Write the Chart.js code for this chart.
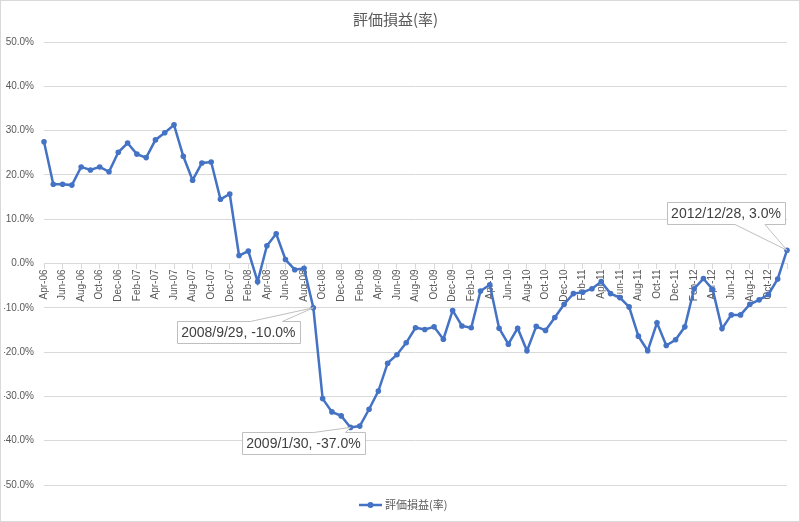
<!DOCTYPE html>
<html>
<head>
<meta charset="utf-8">
<script src="https://cdn.jsdelivr.net/npm/chart.js@4/dist/chart.umd.min.js"></script>
<style>
  body { margin: 0; background: #fff; }
  canvas { display: block; }
</style>
</head>
<body>
<canvas id="myChart" width="800" height="522"></canvas>
<script>
// monthly categories, Apr-06 .. Dec-12
var labels = [
  'Apr-06','May-06','Jun-06','Jul-06','Aug-06','Sep-06','Oct-06','Nov-06','Dec-06',
  'Jan-07','Feb-07','Mar-07','Apr-07','May-07','Jun-07','Jul-07','Aug-07','Sep-07','Oct-07','Nov-07','Dec-07',
  'Jan-08','Feb-08','Mar-08','Apr-08','May-08','Jun-08','Jul-08','Aug-08','Sep-08','Oct-08','Nov-08','Dec-08',
  'Jan-09','Feb-09','Mar-09','Apr-09','May-09','Jun-09','Jul-09','Aug-09','Sep-09','Oct-09','Nov-09','Dec-09',
  'Jan-10','Feb-10','Mar-10','Apr-10','May-10','Jun-10','Jul-10','Aug-10','Sep-10','Oct-10','Nov-10','Dec-10',
  'Jan-11','Feb-11','Mar-11','Apr-11','May-11','Jun-11','Jul-11','Aug-11','Sep-11','Oct-11','Nov-11','Dec-11',
  'Jan-12','Feb-12','Mar-12','Apr-12','May-12','Jun-12','Jul-12','Aug-12','Sep-12','Oct-12','Nov-12','Dec-12'
];

// 評価損益(率) in %
var values = [
  27.5, 17.9, 17.9, 17.7, 21.8, 21.1, 21.8, 20.7, 25.1,
  27.2, 24.7, 23.9, 27.9, 29.5, 31.3, 24.2, 18.8, 22.7, 22.9, 14.5, 15.7,
  1.8, 2.8, -4.1, 4.0, 6.7, 0.9, -1.4, -1.1, -10.0, -30.5, -33.5, -34.4,
  -37.0, -36.7, -32.9, -28.8, -22.5, -20.6, -17.9, -14.5, -14.9, -14.3, -17.1, -10.6,
  -14.1, -14.5, -6.2, -4.8, -14.6, -18.2, -14.6, -19.7, -14.2, -15.1, -12.2, -9.2,
  -6.8, -6.5, -5.7, -4.1, -6.8, -7.7, -9.8, -16.4, -19.7, -13.4, -18.5, -17.2,
  -14.3, -5.7, -3.4, -5.9, -14.7, -11.6, -11.6, -9.2, -8.2, -7.0, -3.5, 3.0
];

var seriesName = '評価損益(率)';
var yTicks = [-50, -40, -30, -20, -10, 0, 10, 20, 30, 40, 50];

// data callouts
var calloutIndex = [29, 33, 80];
var calloutText = ['2008/9/29, -10.0%', '2009/1/30, -37.0%', '2012/12/28, 3.0%'];

var blue = '#4472C4';
var grey = '#595959';
var gridGrey = '#d9d9d9';

// box offset from point (center), wedge base on top or bottom edge
var calloutLayout = [
  { dx: -75, dy: 24.5, edge: 'top', w1: 12, w2: 44 },
  { dx: -47, dy: 16, edge: 'top', w1: 10, w2: 42 },
  { dx: -61, dy: -37.5, edge: 'bottom', w1: 9, w2: 39 }
];

var extras = {
  id: 'extras',
  afterDraw: function(chart) {
    var ctx = chart.ctx;
    var xs = chart.scales.x, ys = chart.scales.y;
    ctx.save();

    // callouts
    ctx.font = '14px "Liberation Sans", Arial, sans-serif';
    for (var i = 0; i < calloutIndex.length; i++) {
      var idx = calloutIndex[i];
      var px = xs.getPixelForValue(idx);
      var py = ys.getPixelForValue(values[idx]);
      var L = calloutLayout[i];
      var tw = ctx.measureText(calloutText[i]).width;
      var bw = tw + 8, bh = 22;
      var cx = px + L.dx, cy = py + L.dy;
      var l = Math.round(cx - bw / 2) + 0.5, r = Math.round(cx + bw / 2) + 0.5;
      var t = Math.round(cy - bh / 2) + 0.5, b = Math.round(cy + bh / 2) + 0.5;
      ctx.beginPath();
      if (L.edge === 'top') {
        ctx.moveTo(l, t);
        ctx.lineTo(cx + L.w1, t);
        ctx.lineTo(px, py);
        ctx.lineTo(cx + L.w2, t);
        ctx.lineTo(r, t);
        ctx.lineTo(r, b);
        ctx.lineTo(l, b);
      } else {
        ctx.moveTo(l, t);
        ctx.lineTo(r, t);
        ctx.lineTo(r, b);
        ctx.lineTo(cx + L.w2, b);
        ctx.lineTo(px, py);
        ctx.lineTo(cx + L.w1, b);
        ctx.lineTo(l, b);
      }
      ctx.closePath();
      ctx.fillStyle = '#fff';
      ctx.fill();
      ctx.strokeStyle = '#bfbfbf';
      ctx.lineWidth = 1;
      ctx.stroke();
      ctx.fillStyle = '#404040';
      ctx.textAlign = 'center';
      ctx.textBaseline = 'middle';
      ctx.fillText(calloutText[i], cx, cy + 1);
    }

    // legend
    var ly = 505;
    ctx.strokeStyle = blue;
    ctx.lineWidth = 2.5;
    ctx.beginPath();
    ctx.moveTo(359, ly);
    ctx.lineTo(382, ly);
    ctx.stroke();
    ctx.fillStyle = blue;
    ctx.beginPath();
    ctx.arc(370.5, ly, 3, 0, Math.PI * 2);
    ctx.fill();
    ctx.fillStyle = grey;
    ctx.font = '11px "Noto Sans CJK JP", sans-serif';
    ctx.textAlign = 'left';
    ctx.textBaseline = 'middle';
    ctx.fillText(seriesName, 385, ly);

    // chart border
    ctx.strokeStyle = gridGrey;
    ctx.lineWidth = 1;
    ctx.strokeRect(0.5, 0.5, chart.width - 1, chart.height - 1);
    ctx.restore();
  }
};

new Chart(document.getElementById('myChart'), {
  type: 'line',
  data: {
    labels: labels,
    datasets: [{
      label: seriesName,
      data: values,
      borderColor: blue,
      backgroundColor: blue,
      borderWidth: 2.5,
      pointRadius: 2.8,
      pointBorderWidth: 0,
      pointBackgroundColor: blue,
      tension: 0
    }]
  },
  options: {
    responsive: false,
    animation: false,
    layout: { padding: { left: 4, right: 13, top: 0, bottom: 37 } },
    plugins: {
      legend: { display: false },
      tooltip: { enabled: false },
      title: {
        display: true,
        text: seriesName,
        color: grey,
        font: { family: '"Noto Sans CJK JP", sans-serif', size: 15, weight: 'normal' },
        padding: { top: 10, bottom: 14 }
      }
    },
    scales: {
      x: {
        position: { y: 0 },
        offset: false,
        grid: {
          drawOnChartArea: false,
          drawTicks: true,
          tickLength: 5,
          color: function(c) { return c.index % 2 === 0 ? gridGrey : 'rgba(0,0,0,0)'; }
        },
        border: { display: true, color: gridGrey },
        ticks: {
          autoSkip: false,
          minRotation: 90,
          maxRotation: 90,
          padding: 1,
          color: grey,
          font: { family: '"Liberation Sans", Arial, sans-serif', size: 10 },
          callback: function(v, i) { return (i % 2 === 0 && i < labels.length - 1) ? labels[i] : ''; }
        }
      },
      y: {
        min: yTicks[0],
        max: yTicks[yTicks.length - 1],
        afterBuildTicks: function(s) { s.ticks = yTicks.map(function(v) { return { value: v }; }); },
        afterFit: function(s) { s.width = 40; },
        grid: { color: gridGrey, drawTicks: false },
        border: { display: false },
        ticks: {
          padding: 10,
          color: grey,
          font: { family: '"Liberation Sans", Arial, sans-serif', size: 10 },
          callback: function(v) { return v.toFixed(1) + '%'; }
        }
      }
    }
  },
  plugins: [extras]
});
</script>
</body>
</html>
